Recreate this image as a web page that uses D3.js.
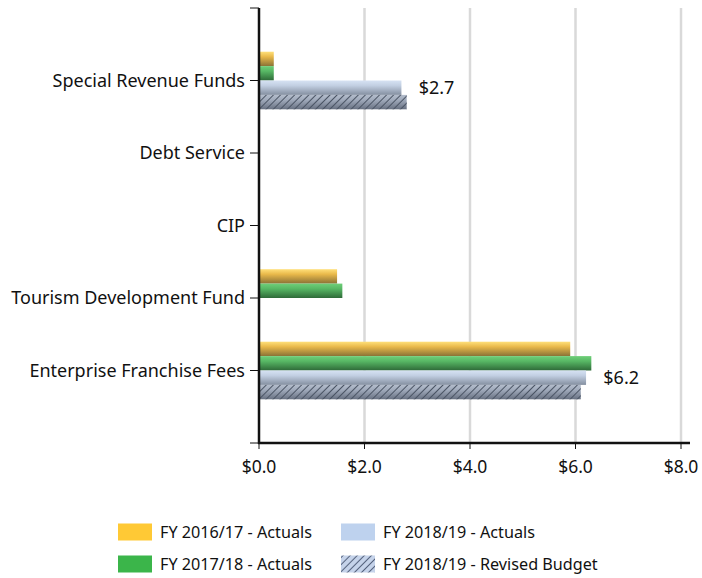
<!DOCTYPE html>
<html>
<head>
<meta charset="utf-8">
<script src="https://cdn.jsdelivr.net/npm/d3@7"></script>
<style>
  body { margin: 0; background: #fff; }
  text { font-family: "Noto Sans", "Open Sans", sans-serif; fill: #111; }
</style>
</head>
<body>
<svg id="chart" width="702" height="578"></svg>
<script>
// data (millions)
var categories = ["Special Revenue Funds", "Debt Service", "CIP", "Tourism Development Fund", "Enterprise Franchise Fees"];
var seriesNames = ["FY 2016/17 - Actuals", "FY 2017/18 - Actuals", "FY 2018/19 - Actuals", "FY 2018/19 - Revised Budget"];
var fy1617 = [0.28, 0, 0, 1.48, 5.9];
var fy1718 = [0.28, 0, 0, 1.58, 6.3];
var fy1819 = [2.7, 0, 0, 0, 6.2];
var fy1819Budget = [2.8, 0, 0, 0, 6.1];
var xTicks = [0, 2, 4, 6, 8];
var labelled = [{cat: "Special Revenue Funds", value: 2.7}, {cat: "Enterprise Franchise Fees", value: 6.2}];

var seriesVals = [fy1617, fy1718, fy1819, fy1819Budget];

var svg = d3.select("#chart");
var margin = {top: 8, left: 259, right: 21, bottom: 135};
var width = 702, height = 578;
var plotBottom = height - margin.bottom; // 443

var xScale = d3.scaleLinear().domain([0, 8]).range([margin.left, 681]);
var step = (plotBottom - margin.top) / (categories.length + 1);
var yScale = d3.scalePoint().domain(categories)
  .range([margin.top + step, plotBottom - step]);
var barH = 14.4;
var sub = d3.scaleBand().domain(d3.range(4)).range([-2 * barH, 2 * barH]).padding(0);

// gradients
var defs = svg.append("defs");
var grads = [
  ["g0", ["#ffe07a", "#e9b94a", "#8a7236"]],
  ["g1", ["#6fcf79", "#58b865", "#2e6a38"]],
  ["g2", ["#d6e2f3", "#c2cfe2", "#848fa0"]],
  ["g3", ["#b3bccb", "#a0aabb", "#687182"]]
];
grads.forEach(function(g) {
  var lg = defs.append("linearGradient").attr("id", g[0])
    .attr("x1", 0).attr("y1", 0).attr("x2", 0).attr("y2", 1);
  lg.append("stop").attr("offset", "0%").attr("stop-color", g[1][0]);
  lg.append("stop").attr("offset", "35%").attr("stop-color", g[1][1]);
  lg.append("stop").attr("offset", "100%").attr("stop-color", g[1][2]);
});
// hatch for bars
var hp = defs.append("pattern").attr("id", "hatch")
  .attr("patternUnits", "userSpaceOnUse").attr("width", 5).attr("height", 5)
  .attr("patternTransform", "rotate(45)");
hp.append("line").attr("x1", 0).attr("y1", 0).attr("x2", 0).attr("y2", 5)
  .attr("stroke", "#4a5464").attr("stroke-width", 2);
// hatch for legend
var hl = defs.append("pattern").attr("id", "hatchLeg")
  .attr("patternUnits", "userSpaceOnUse").attr("width", 5).attr("height", 5)
  .attr("patternTransform", "rotate(45)");
hl.append("rect").attr("width", 5).attr("height", 5).attr("fill", "#c5d3ea");
hl.append("line").attr("x1", 0).attr("y1", 0).attr("x2", 0).attr("y2", 5)
  .attr("stroke", "#55637e").attr("stroke-width", 2);

// gridlines
svg.append("g").selectAll("line").data(xTicks.slice(1)).enter().append("line")
  .attr("x1", function(d) { return xScale(d); })
  .attr("x2", function(d) { return xScale(d); })
  .attr("y1", margin.top).attr("y2", plotBottom)
  .attr("stroke", "#d9d9d9").attr("stroke-width", 2.5);

// bars
var rows = [];
categories.forEach(function(c, i) {
  seriesVals.forEach(function(s, j) { rows.push({cat: c, s: j, v: s[i]}); });
});
svg.append("g").selectAll("rect").data(rows.filter(function(d) { return d.v > 0; }))
  .enter().append("rect")
  .attr("x", xScale(0))
  .attr("y", function(d) { return yScale(d.cat) + sub(d.s); })
  .attr("width", function(d) { return xScale(d.v) - xScale(0); })
  .attr("height", barH)
  .attr("fill", function(d) { return "url(#g" + d.s + ")"; });
svg.append("g").selectAll("rect").data(rows.filter(function(d) { return d.v > 0 && d.s == 3; }))
  .enter().append("rect")
  .attr("x", xScale(0))
  .attr("y", function(d) { return yScale(d.cat) + sub(d.s); })
  .attr("width", function(d) { return xScale(d.v) - xScale(0); })
  .attr("height", barH)
  .attr("fill", "url(#hatch)");

// value labels
svg.append("g").selectAll("text").data(labelled).enter().append("text")
  .attr("x", function(d) {
    var i = categories.indexOf(d.cat);
    return xScale(d3.max(seriesVals, function(s) { return s[i]; })) + 12;
  })
  .attr("y", function(d) { return yScale(d.cat) + sub(2) + barH / 2; })
  .attr("dy", "0.35em")
  .style("font-size", "18px")
  .text(function(d) { return "$" + d.value.toFixed(1); });

// y axis
var yTickPos = d3.range(categories.length + 2).map(function(i) { return margin.top + i * step; });
svg.append("line").attr("x1", xScale(0)).attr("x2", xScale(0))
  .attr("y1", margin.top).attr("y2", plotBottom + 1)
  .attr("stroke", "#111").attr("stroke-width", 2.5);
svg.append("g").selectAll("line").data(yTickPos).enter().append("line")
  .attr("x1", xScale(0) - 9).attr("x2", xScale(0))
  .attr("y1", function(d) { return d; }).attr("y2", function(d) { return d; })
  .attr("stroke", "#111").attr("stroke-width", 1);
svg.append("g").selectAll("text").data(categories).enter().append("text")
  .attr("x", xScale(0) - 14)
  .attr("y", function(d) { return yScale(d); })
  .attr("dy", "0.35em")
  .attr("text-anchor", "end")
  .style("font-size", "18px")
  .text(function(d) { return d; });

// x axis
svg.append("line").attr("x1", xScale(0) - 1).attr("x2", 690)
  .attr("y1", plotBottom).attr("y2", plotBottom)
  .attr("stroke", "#111").attr("stroke-width", 2.5);
svg.append("g").selectAll("line").data(xTicks).enter().append("line")
  .attr("x1", function(d) { return xScale(d); }).attr("x2", function(d) { return xScale(d); })
  .attr("y1", plotBottom).attr("y2", plotBottom + 6)
  .attr("stroke", "#111").attr("stroke-width", 1);
svg.append("g").selectAll("text").data(xTicks).enter().append("text")
  .attr("x", function(d) { return xScale(d); })
  .attr("y", 467)
  .attr("dy", "0.35em")
  .attr("text-anchor", "middle")
  .style("font-size", "17.5px")
  .text(function(d) { return "$" + d.toFixed(1); });

// legend
var legFill = ["#ffc935", "#3bb54a", "#bed2ee", "url(#hatchLeg)"];
var legPos = [[118, 532], [118, 564], [341, 532], [341, 564]];
var leg = svg.append("g").selectAll("g").data(seriesNames).enter().append("g")
  .attr("transform", function(d, i) { return "translate(" + legPos[i] + ")"; });
leg.append("rect").attr("x", 0).attr("y", -8.5).attr("width", 34).attr("height", 17)
  .attr("fill", function(d, i) { return legFill[i]; });
leg.append("text").attr("x", 42).attr("y", 0).attr("dy", "0.35em")
  .style("font-size", "16.2px")
  .text(function(d) { return d; });
</script>
</body>
</html>
